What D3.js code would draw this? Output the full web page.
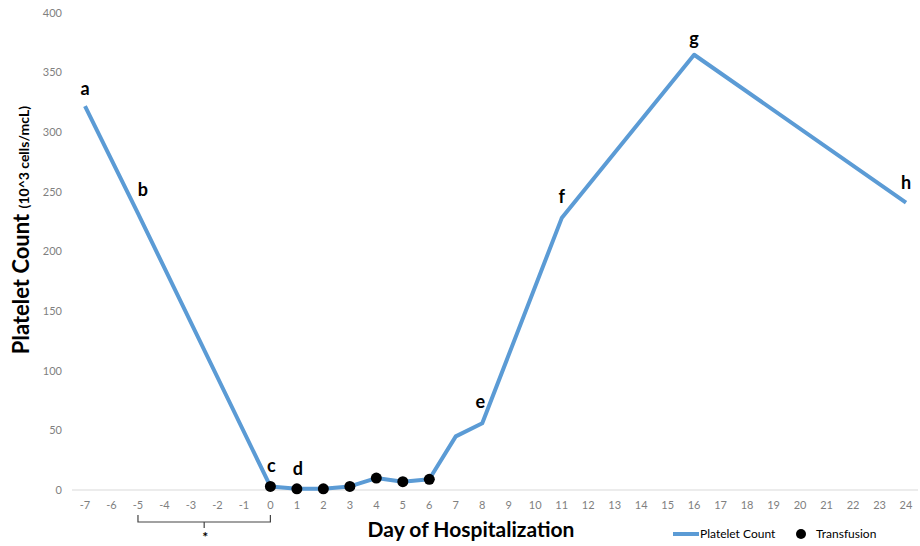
<!DOCTYPE html>
<html>
<head>
<meta charset="utf-8">
<script src="https://cdn.jsdelivr.net/npm/d3@7"></script>
<style>
  body { margin: 0; background: #fff; }
  text { font-family: Lato, "Open Sans", sans-serif; }
</style>
</head>
<body>
<div id="wrapper"></div>
<script>
// data
const days = d3.range(-7, 25)                 // x categories -7 .. 24
const countDays = [-7, -5, 0, 1, 2, 3, 4, 5, 6, 7, 8, 11, 16, 24]
const countValues = [322, 232, 3, 1, 1, 3, 10, 7, 9, 45, 56, 228, 365, 241]
const transfusionDays = [0, 1, 2, 3, 4, 5, 6]
const pointLabels = [
  { day: -7, text: "a" }, { day: -5, text: "b" }, { day: 0, text: "c" }, { day: 1, text: "d" },
  { day: 8, text: "e" }, { day: 11, text: "f" }, { day: 16, text: "g" }, { day: 24, text: "h" }
]
const yTicks = [0, 50, 100, 150, 200, 250, 300, 350, 400]

const width = 920
const height = 546
const margin = { top: 12, right: 13, bottom: 56, left: 72 }

const svg = d3.select("#wrapper").append("svg")
  .attr("width", width)
  .attr("height", height)

const x = d3.scalePoint()
  .domain(days)
  .range([85, 906])

const y = d3.scaleLinear()
  .domain([0, 400])
  .range([490, 13])

const valueAt = d => countValues[countDays.indexOf(d)]

// axis baseline
svg.append("line")
  .attr("x1", margin.left).attr("x2", 918)
  .attr("y1", y(0)).attr("y2", y(0))
  .attr("stroke", "#d9d9d9").attr("stroke-width", 1)

// y tick labels
svg.append("g").selectAll("text")
  .data(yTicks)
  .join("text")
  .attr("x", 62)
  .attr("y", d => y(d))
  .attr("dy", "0.35em")
  .attr("text-anchor", "end")
  .attr("fill", "#7f7f7f")
  .style("font-size", "11px")
  .text(d => d)

// x tick labels
svg.append("g").selectAll("text")
  .data(days)
  .join("text")
  .attr("x", d => x(d))
  .attr("y", 505)
  .attr("dy", "0.35em")
  .attr("text-anchor", "middle")
  .attr("fill", "#7f7f7f")
  .style("font-size", "11px")
  .text(d => d)

// platelet line
const line = d3.line()
  .x(d => x(d))
  .y(d => y(valueAt(d)))

svg.append("path")
  .datum(countDays)
  .attr("d", line)
  .attr("fill", "none")
  .attr("stroke", "#5b9bd5")
  .attr("stroke-width", 4)
  .attr("stroke-linejoin", "round")

// transfusion dots
svg.append("g").selectAll("circle")
  .data(transfusionDays)
  .join("circle")
  .attr("cx", d => x(d))
  .attr("cy", d => y(valueAt(d)))
  .attr("r", 5.5)
  .attr("fill", "#000")

// point letters
const labelOffset = { a: [0, -11], b: [5, -17], c: [1, -14], d: [1, -14], e: [-2, -15], f: [0, -15], g: [0, -10], h: [0, -14] }
svg.append("g").selectAll("text")
  .data(pointLabels)
  .join("text")
  .attr("x", d => x(d.day) + labelOffset[d.text][0])
  .attr("y", d => y(valueAt(d.day)) + labelOffset[d.text][1])
  .attr("text-anchor", "middle")
  .style("font-size", "18px")
  .style("font-weight", "bold")
  .attr("fill", "#000")
  .text(d => d.text)

// bracket under -5 .. 0
const bx0 = x(-5), bx1 = x(0), bmid = (bx0 + bx1) / 2
svg.append("path")
  .attr("d", `M${bx0},515 V522 H${bx1} V515 M${bmid},522 V528`)
  .attr("fill", "none")
  .attr("stroke", "#444")
  .attr("stroke-width", 1.2)
svg.append("text")
  .attr("x", bmid + 1)
  .attr("y", 542)
  .attr("text-anchor", "middle")
  .style("font-size", "14px")
  .style("font-weight", "bold")
  .text("*")

// axis titles
svg.append("text")
  .attr("x", 471)
  .attr("y", 537)
  .attr("text-anchor", "middle")
  .style("font-size", "21px")
  .style("font-weight", "bold")
  .text("Day of Hospitalization")

const yTitle = svg.append("text")
  .attr("transform", `translate(29, 230) rotate(-90)`)
  .attr("text-anchor", "middle")
yTitle.append("tspan")
  .style("font-size", "22px")
  .style("font-weight", "bold")
  .text("Platelet Count ")
yTitle.append("tspan")
  .style("font-size", "14px")
  .style("font-weight", "bold")
  .text("(10^3 cells/mcL)")

// legend
const legend = svg.append("g").attr("transform", "translate(673, 534)")
legend.append("line")
  .attr("x1", 0).attr("x2", 26)
  .attr("stroke", "#5b9bd5").attr("stroke-width", 4)
legend.append("text")
  .attr("x", 27).attr("dy", "0.35em")
  .style("font-size", "12px")
  .text("Platelet Count")
legend.append("circle")
  .attr("cx", 128).attr("r", 5).attr("fill", "#000")
legend.append("text")
  .attr("x", 143).attr("dy", "0.35em")
  .style("font-size", "12px")
  .text("Transfusion")
</script>
</body>
</html>
